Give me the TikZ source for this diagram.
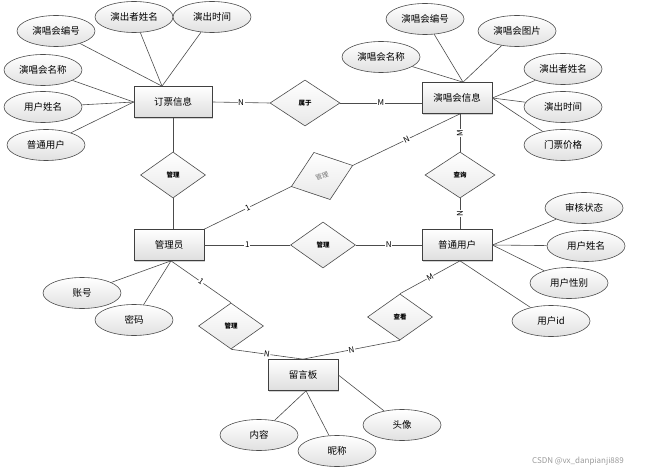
\documentclass[tikz,border=0pt]{standalone}
\usepackage{fontspec}
\setmainfont{Noto Sans CJK SC}
\usetikzlibrary{shapes.geometric,shadows}

\begin{document}
\begin{tikzpicture}[
    x=1pt, y=-1pt,
    ent/.style={rectangle, draw=black!75, line width=0.7pt, top color=white, bottom color=black!13, drop shadow={shadow xshift=1.3pt, shadow yshift=-1.3pt, fill=black!35}, minimum width=70pt, minimum height=31pt, inner sep=0pt, font=\fontsize{9.5}{10}\selectfont},
    attr/.style={ellipse, draw=black!70, line width=0.6pt, top color=white, bottom color=black!12, minimum width=78pt, minimum height=31pt, inner sep=0pt, font=\fontsize{9.5}{10}\selectfont},
    rel/.style={diamond, draw=black!70, line width=0.6pt, top color=white, bottom color=black!9, minimum width=65pt, minimum height=46pt, inner sep=0pt, font=\fontsize{6.5}{7}\selectfont\bfseries},
    conn/.style={draw=black!70, line width=0.6pt},
    card/.style={fill=white, inner sep=0.6pt, font=\fontsize{8}{8}\selectfont}
]
\useasboundingbox (0,0) rectangle (656,473);

% Entities
\node[ent, minimum width=78pt] (dp) at (173,102) {订票信息};
\node[ent] (ci) at (457,98) {演唱会信息};
\node[ent] (adm) at (169,245) {管理员};
\node[ent] (pt) at (457,245) {普通用户};
\node[ent] (lyb) at (303,375) {留言板};

% Relations
\node[rel, minimum width=70pt] (sy) at (305,103) {属于};
\node[rel] (gl1) at (173,175) {管理};
\node[rel, rotate=19, minimum height=50pt, text=black!55, font=\fontsize{6.5}{7}\selectfont] (gl2) at (322,176) {管理};
\node[rel, minimum width=70pt] (cx) at (460,175) {查询};
\node[rel] (gl3) at (323,245) {管理};
\node[rel] (gl4) at (231,326) {管理};
\node[rel] (ck) at (400,317) {查看};

% Attributes
\node[attr] (dpa1) at (56,31) {演唱会编号};
\node[attr] (dpa2) at (134,17) {演出者姓名};
\node[attr] (dpa3) at (212,17) {演出时间};
\node[attr] (dpa4) at (43,70) {演唱会名称};
\node[attr] (dpa5) at (43,107) {用户姓名};
\node[attr] (dpa6) at (46,145) {普通用户};

\node[attr] (cia1) at (425,19) {演唱会编号};
\node[attr] (cia2) at (517,31) {演唱会图片};
\node[attr] (cia3) at (381,57) {演唱会名称};
\node[attr] (cia4) at (563,69) {演出者姓名};
\node[attr] (cia5) at (563,107) {演出时间};
\node[attr] (cia6) at (563,145) {门票价格};

\node[attr] (pta1) at (584,208) {审核状态};
\node[attr] (pta2) at (586,246) {用户姓名};
\node[attr] (pta3) at (569,283) {用户性别};
\node[attr] (pta4) at (551,321) {用户id};

\node[attr] (adma1) at (82,293) {账号};
\node[attr] (adma2) at (134,320) {密码};

\node[attr] (lyba1) at (259,435) {内容};
\node[attr] (lyba2) at (337,451) {昵称};
\node[attr] (lyba3) at (402,425) {头像};

\node[text=black!40, font=\fontsize{8}{8}\selectfont] (wm) at (578,461) {CSDN @vx\_danpianji889};

% Attribute lines
\draw[conn] (dpa1) -- ([xshift=-11pt]dp.north);
\draw[conn] (dpa2) -- ([xshift=-11pt]dp.north);
\draw[conn] (dpa3) -- ([xshift=-11pt]dp.north);
\draw[conn] (dpa4) -- (dp.west);
\draw[conn] (dpa5) -- (dp.west);
\draw[conn] (dpa6) -- (dp.west);

\draw[conn] (cia1) -- ([xshift=6pt]ci.north);
\draw[conn] (cia2) -- ([xshift=6pt]ci.north);
\draw[conn] (cia3) -- ([xshift=6pt]ci.north);
\draw[conn] (cia4) -- (ci.east);
\draw[conn] (cia5) -- (ci.east);
\draw[conn] (cia6) -- (ci.east);

\draw[conn] (pta1) -- (pt.east);
\draw[conn] (pta2) -- (pt.east);
\draw[conn] (pta3) -- (pt.east);
\draw[conn] (pta4) -- ([xshift=3pt]pt.south);

\draw[conn] (adma1) -- ([xshift=2pt]adm.south);
\draw[conn] (adma2) -- ([xshift=2pt]adm.south);

\draw[conn] (lyba1) -- ([xshift=3pt]lyb.south);
\draw[conn] (lyba2) -- ([xshift=3pt]lyb.south);
\draw[conn] (lyba3) -- (lyb.east);

% Relation lines
\draw[conn] (dp.east) -- node[card] {N} (sy.west);
\draw[conn] (sy.east) -- node[card] {M} (sy.east -| ci.west);
\draw[conn] (dp.south -| gl1.north) -- (gl1.north);
\draw[conn] (gl1.south) -- (gl1.south |- adm.north);
\draw[conn] (adm.north east) -- node[card, sloped] {1} (gl2.west);
\draw[conn] (gl2.east) -- node[card, sloped] {N} ([xshift=3pt]ci.south);
\draw[conn] (cx.north |- ci.south) -- node[card, rotate=90] {M} (cx.north);
\draw[conn] (cx.south) -- node[card, rotate=90] {N} (cx.south |- pt.north);
\draw[conn] (adm) -- node[card] {1} (gl3);
\draw[conn] (gl3) -- node[card] {N} (pt);
\draw[conn] ([xshift=2pt]adm.south) -- node[card, sloped] {1} (gl4.north);
\draw[conn] (gl4.south) -- node[card, sloped] {N} (lyb.north);
\draw[conn] ([xshift=3pt]pt.south) -- node[card, sloped] {M} (ck.north);
\draw[conn] (ck.south) -- node[card, sloped] {N} (lyb.north);

\end{tikzpicture}
\end{document}
